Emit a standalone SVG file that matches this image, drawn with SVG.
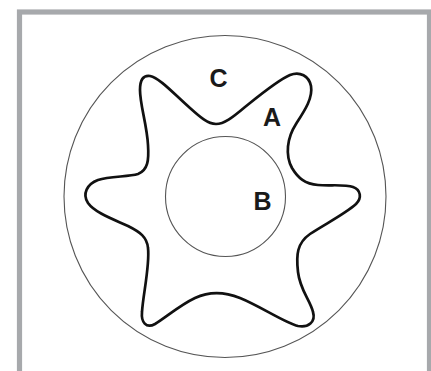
<svg xmlns="http://www.w3.org/2000/svg" width="431" height="371" viewBox="0 0 431 371">
  <style>
    .thin { fill: none; stroke: #555; stroke-width: 1.1; }
    .thick { fill: none; stroke: #111; stroke-width: 2.7; stroke-linejoin: round; }
    .lbl { font-family: "Liberation Sans", Arial, sans-serif; font-weight: bold; font-size: 25px; fill: #1a1a1a; text-anchor: middle; }
  </style>
  <rect x="0" y="0" width="431" height="371" fill="#fff"/>
  <g id="frame">
    <rect x="19.5" y="12" width="410" height="400" fill="none" stroke="#a7a9ac" stroke-width="5.2"/>
  </g>
  <g id="outer-circle">
    <circle class="thin" cx="225" cy="196.5" r="161"/>
  </g>
  <g id="inner-circle">
    <circle class="thin" cx="225.5" cy="196.5" r="60"/>
  </g>
  <g id="star">
    <path class="thick" d="M 216,124 C 224,124 232,118 245,107 C 260,95 278,80 290,75 C 300,71 309,76 311,86 C 313,98 305,110 296,124 C 287,138 285,155 292,168 C 298,178 305,184 318,185 C 330,186 345,184 353,187 C 361,190 362,198 356,204 C 345,214 325,224 310,234 C 297,243 296,255 298,272 C 300,290 310,300 313,312 C 316,322 308,328 298,326 C 285,323 260,306 240,298 C 225,292 210,291 195,298 C 180,305 165,318 155,324 C 146,329 141,322 142,312 C 143,295 150,265 148,248 C 147,237 140,232 128,226 C 115,220 95,213 88,203 C 82,194 87,184 98,180 C 110,176 128,177 138,174 C 148,170 149,160 148,145 C 147,125 140,105 140,90 C 140,80 143,75 150,76 C 160,78 175,95 190,108 C 200,117 208,124 216,124 Z"/>
  </g>
  <g id="labels">
    <text class="lbl" x="218.5" y="86.5">C</text>
    <text class="lbl" x="272" y="126">A</text>
    <text class="lbl" x="262.5" y="210">B</text>
  </g>
</svg>
